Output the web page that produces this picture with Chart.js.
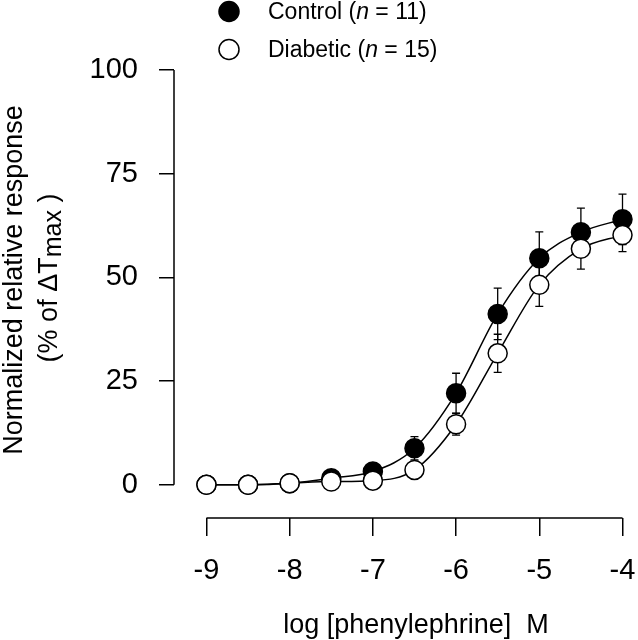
<!DOCTYPE html>
<html>
<head>
<meta charset="utf-8">
<script src="https://cdn.jsdelivr.net/npm/chart.js@4.4.1/dist/chart.umd.min.js"></script>
<style>
  html, body { margin: 0; padding: 0; background: #fff; }
</style>
</head>
<body>
<canvas id="grafico" width="638" height="640"></canvas>
<script>
// dados
const logDose = [-9, -8.5, -8, -7.5, -7, -6.5, -6, -5.5, -5, -4.5, -4];
const controle = [0, 0, 0.4, 1.6, 3.2, 8.8, 22.1, 41.2, 54.6, 60.9, 64.0];
const controleEpm = [0, 0, 0, 0.3, 0.8, 2.8, 4.8, 6.2, 6.4, 5.8, 6.1];
const diabetico = [0, 0, 0.4, 0.8, 1.0, 3.6, 14.6, 31.7, 48.2, 56.9, 60.2];
const diabeticoEpm = [0, 0, 0, 0.2, 0.4, 0.6, 2.6, 4.6, 5.2, 4.9, 4.0];
const xTicks = [-9, -8, -7, -6, -5, -4];
const yTicks = [0, 25, 50, 75, 100];
const grupos = ["Control", "Diabetic"];
const nGrupos = [11, 15];

const FONTE = "Arial, 'Liberation Sans', Helvetica, sans-serif";

function pontos(ys){
    return logDose.map((x, i) => ({ x: x, y: ys[i] }));
}

// barras de erro, eixos, legenda e títulos
const extras = {
  id: "extras",
  beforeDatasetsDraw(chart){
    const ctx = chart.ctx;
    const sx = chart.scales.x;
    const sy = chart.scales.y;
    const area = chart.chartArea;

    ctx.save();
    ctx.strokeStyle = "#000";

    ctx.lineWidth = 1.3;
    [[controle, controleEpm], [diabetico, diabeticoEpm]].forEach(([med, epm]) => {
      med.forEach((v, i) => {
        if(!epm[i]) return;
        const x = sx.getPixelForValue(logDose[i]);
        const y1 = sy.getPixelForValue(v - epm[i]);
        const y2 = sy.getPixelForValue(v + epm[i]);
        ctx.beginPath();
        ctx.moveTo(x, y1); ctx.lineTo(x, y2);
        ctx.moveTo(x - 4, y1); ctx.lineTo(x + 4, y1);
        ctx.moveTo(x - 4, y2); ctx.lineTo(x + 4, y2);
        ctx.stroke();
      });
    });

    ctx.lineWidth = 1.5;
    ctx.beginPath();
    ctx.moveTo(area.left, sy.getPixelForValue(yTicks[0]));
    ctx.lineTo(area.left, sy.getPixelForValue(yTicks[yTicks.length - 1]));
    ctx.moveTo(sx.getPixelForValue(xTicks[0]), area.bottom);
    ctx.lineTo(sx.getPixelForValue(xTicks[xTicks.length - 1]), area.bottom);
    ctx.stroke();
    ctx.restore();
  },
  afterDraw(chart){
    const ctx = chart.ctx;
    ctx.save();
    ctx.fillStyle = "#000";
    ctx.strokeStyle = "#000";

    // legenda
    const linhas = [18.5, 56.5];
    grupos.forEach((g, k) => {
      const cy = linhas[k] - 7;
      ctx.beginPath();
      ctx.arc(229, cy, 10, 0, Math.PI * 2);
      ctx.fillStyle = k === 0 ? "#000" : "#fff";
      ctx.fill();
      ctx.lineWidth = 1.5;
      ctx.stroke();
      ctx.fillStyle = "#000";
      let x = 268;
      const partes = [
        [g + " (", "23px " + FONTE],
        ["n", "italic 23px " + FONTE],
        [" = " + nGrupos[k] + ")", "23px " + FONTE]
      ];
      ctx.textAlign = "left";
      ctx.textBaseline = "alphabetic";
      partes.forEach(([t, f]) => {
        ctx.font = f;
        ctx.fillText(t, x, linhas[k]);
        x += ctx.measureText(t).width;
      });
    });

    // título do eixo y
    ctx.save();
    ctx.translate(22, 280);
    ctx.rotate(-Math.PI / 2);
    ctx.font = "27px " + FONTE;
    ctx.textAlign = "center";
    ctx.fillText("Normalized relative response", 0, 0);
    ctx.restore();

    ctx.save();
    ctx.translate(57, 278);
    ctx.rotate(-Math.PI / 2);
    ctx.textAlign = "left";
    const seg = [
      ["(% of \u0394T", "27px " + FONTE, 0],
      ["max", "25px " + FONTE, 4],
      [" )", "27px " + FONTE, 0]
    ];
    let total = 0;
    seg.forEach(([t, f]) => { ctx.font = f; total += ctx.measureText(t).width; });
    let px = -total / 2;
    seg.forEach(([t, f, dy]) => {
      ctx.font = f;
      ctx.fillText(t, px, dy);
      px += ctx.measureText(t).width;
    });
    ctx.restore();

    // título do eixo x
    ctx.font = "27px " + FONTE;
    ctx.textAlign = "center";
    ctx.fillText("log [phenylephrine]  M", 416, 633);

    ctx.restore();
  }
};

const grafico = new Chart(
  document.getElementById("grafico"),
  {
    type: "line",
    data: {
      datasets: [
        {
          label: grupos[1],
          data: pontos(diabetico),
          order: 0,
          borderColor: "#000",
          borderWidth: 1.5,
          backgroundColor: "#fff",
          pointBackgroundColor: "#fff",
          pointBorderColor: "#000",
          pointBorderWidth: 1.5,
          pointRadius: 9.5,
          cubicInterpolationMode: "monotone",
          fill: false,
          clip: false
        },
        {
          label: grupos[0],
          data: pontos(controle),
          order: 1,
          borderColor: "#000",
          borderWidth: 1.5,
          backgroundColor: "#000",
          pointBackgroundColor: "#000",
          pointBorderColor: "#000",
          pointBorderWidth: 1.5,
          pointRadius: 9.5,
          cubicInterpolationMode: "monotone",
          fill: false,
          clip: false
        }
      ]
    },
    options: {
      responsive: false,
      animation: false,
      devicePixelRatio: 1,
      layout: { padding: { top: 70, right: 15.5, bottom: 0, left: 0 } },
      plugins: {
        legend: { display: false },
        tooltip: { enabled: false }
      },
      scales: {
        x: {
          type: "linear",
          min: -9.39,
          max: -4,
          afterBuildTicks: s => { s.ticks = xTicks.map(v => ({ value: v })); },
          afterFit: s => { s.height = 122; },
          border: { display: false },
          grid: { drawOnChartArea: false, drawTicks: true, tickLength: 18, color: "#000", lineWidth: 1.5 },
          ticks: {
            color: "#000",
            font: { family: FONTE, size: 29, lineHeight: "70px" },
            padding: 0,
            maxRotation: 0,
            autoSkip: false,
            callback: v => String(v)
          }
        },
        y: {
          min: -8,
          max: 100,
          afterBuildTicks: s => { s.ticks = yTicks.map(v => ({ value: v })); },
          afterFit: s => { s.width = 174; },
          border: { display: false },
          grid: { drawOnChartArea: false, drawTicks: true, tickLength: 15, color: "#000", lineWidth: 1.5 },
          ticks: {
            color: "#000",
            font: { family: FONTE, size: 29 },
            padding: 21,
            autoSkip: false,
            callback: v => String(v)
          }
        }
      }
    },
    plugins: [extras]
  }
);
</script>
</body>
</html>
